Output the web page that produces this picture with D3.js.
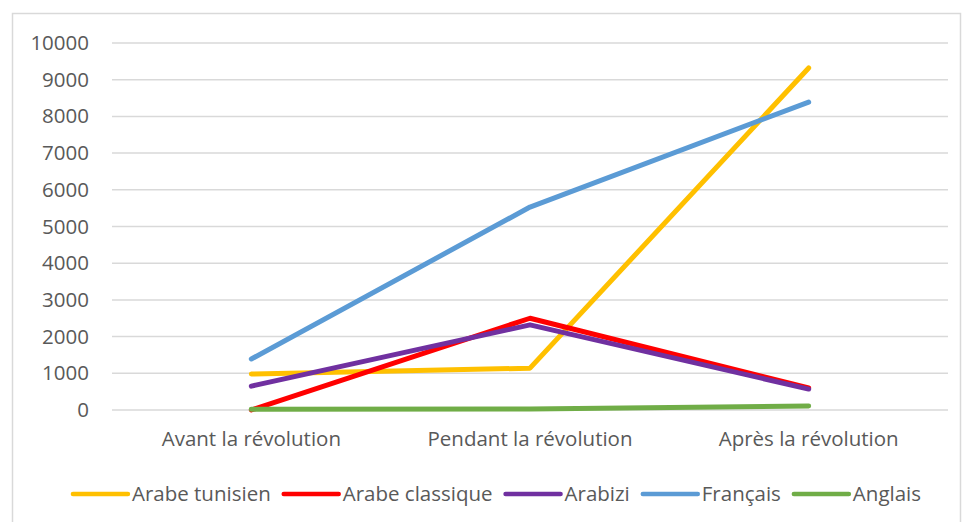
<!DOCTYPE html>
<html>
<head>
<meta charset="utf-8">
<script src="https://cdn.jsdelivr.net/npm/d3@7"></script>
<style>
  html, body { margin: 0; padding: 0; background: #fff; }
  svg { display: block; }
  text { font-family: "Open Sans", "Noto Sans", sans-serif; fill: #595959; }
</style>
</head>
<body>
<svg id="chart" width="962" height="522"></svg>
<script>
// Periods on the x axis
const categories = ["Avant la révolution", "Pendant la révolution", "Après la révolution"];

// One value per period for each language
const arabeTunisien  = [980, 1140, 9320];
const arabeClassique = [0, 2500, 600];
const arabizi        = [650, 2320, 570];
const francais       = [1390, 5530, 8390];
const anglais        = [20, 30, 110];

const seriesNames  = ["Arabe tunisien", "Arabe classique", "Arabizi", "Français", "Anglais"];
const seriesColors = ["#FFC000", "#FF0000", "#7030A0", "#5B9BD5", "#70AD47"];
const seriesValues = [arabeTunisien, arabeClassique, arabizi, francais, anglais];

const yTicks = [0, 1000, 2000, 3000, 4000, 5000, 6000, 7000, 8000, 9000, 10000];

const svg = d3.select("#chart");
const FONT = "'Open Sans', 'Noto Sans', sans-serif";
const FS = 20.5;

// Outer frame
svg.append("rect")
  .attr("x", 12.5).attr("y", 13.5)
  .attr("width", 948).attr("height", 520)
  .attr("fill", "#fff").attr("stroke", "#d9d9d9").attr("stroke-width", 1.5);

const plot = { left: 112, right: 948, top: 43, bottom: 410 };

const x = d3.scaleBand().domain(categories).range([plot.left, plot.right]);
const y = d3.scaleLinear().domain([0, 10000]).range([plot.bottom, plot.top]);

// Horizontal gridlines
svg.append("g")
  .selectAll("line")
  .data(yTicks)
  .join("line")
  .attr("x1", plot.left).attr("x2", plot.right)
  .attr("y1", d => y(d)).attr("y2", d => y(d))
  .attr("stroke", "#d9d9d9").attr("stroke-width", 1.5);

// Y axis labels
const yAxis = d3.axisLeft(y).tickValues(yTicks).tickSize(0).tickPadding(0).tickFormat(d3.format("d"));
const gy = svg.append("g").attr("transform", `translate(${plot.left - 23},0)`).call(yAxis);
gy.select(".domain").remove();
gy.selectAll("text")
  .attr("font-size", FS)
  .style("font-family", FONT)
  .attr("fill", "#595959");

// X axis labels
const xAxis = d3.axisBottom(x).tickSize(0).tickPadding(0);
const gx = svg.append("g").attr("transform", `translate(0,${plot.bottom + 21})`).call(xAxis);
gx.select(".domain").remove();
gx.selectAll("text")
  .attr("font-size", FS)
  .attr("dy", "0.71em")
  .style("font-family", FONT)
  .attr("fill", "#595959");

// Series lines
const line = d3.line()
  .x((d, i) => x(categories[i]) + x.bandwidth() / 2)
  .y(d => y(d));

svg.append("g")
  .selectAll("path")
  .data(seriesValues)
  .join("path")
  .attr("d", d => line(d))
  .attr("fill", "none")
  .attr("stroke", (d, i) => seriesColors[i])
  .attr("stroke-width", 5)
  .attr("stroke-linecap", "round")
  .attr("stroke-linejoin", "round");

// Legend, centered below the plot
const legend = svg.append("g");
const swatch = 55, swGap = 4, itemGap = 13;
const items = legend.selectAll("g")
  .data(seriesNames)
  .join("g");
items.append("line")
  .attr("x1", 0).attr("x2", swatch)
  .attr("y1", 0).attr("y2", 0)
  .attr("stroke", (d, i) => seriesColors[i])
  .attr("stroke-width", 4.5)
  .attr("stroke-linecap", "round");
items.append("text")
  .attr("x", swatch + swGap)
  .attr("y", 0)
  .attr("dy", "0.35em")
  .attr("font-size", FS)
  .style("font-family", FONT)
  .text(d => d);

const widths = [];
items.each(function () {
  widths.push(swatch + swGap + this.querySelector("text").getComputedTextLength());
});
const total = d3.sum(widths) + itemGap * (widths.length - 1);
let offset = 497 - total / 2;
items.attr("transform", (d, i) => {
  const tx = offset;
  offset += widths[i] + itemGap;
  return `translate(${tx},494)`;
});
</script>
</body>
</html>
